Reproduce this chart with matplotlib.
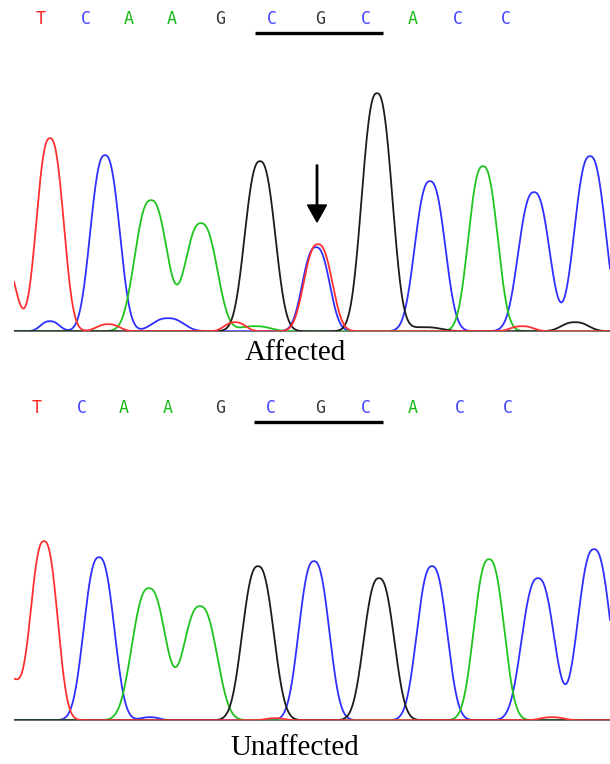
import numpy as np
import matplotlib.pyplot as plt

# figure size in pixels (dpi 100)
W, H = 610, 764

# base calls shown above each trace
bases = list("TCAAGCGCACC")
aff_call_x = [41, 86, 129, 172, 220, 272, 320, 366, 413, 458, 506]
unaff_call_x = [37, 82, 124, 168, 220, 271, 320, 366, 413, 460, 508]
motif = (5, 7)  # CGC underlined, indices into bases

# peaks per dye channel: (scan position, height, width)
aff_peaks = {
    "C": [(50, 10, 9), (105, 176, 14), (168, 13, 15), (316, 84, 13),
          (430, 150, 14.5), (534, 139, 15), (590, 175, 15)],
    "A": [(151, 131, 15.6), (201, 108, 15.6), (255, 5, 15), (483, 165, 14)],
    "G": [(260, 170, 14.5), (377, 238, 14.5), (425, 4, 16), (575, 9, 13)],
    "T": [(2, 74, 13), (50, 193, 13), (108, 7, 11), (235, 9, 10),
          (318, 87, 13.5), (522, 5, 11)],
}
unaff_peaks = {
    "C": [(99, 163, 14.5), (150, 3, 9), (314, 159, 14.5), (432, 154, 14.5),
          (538, 142, 15.6), (594, 171, 15.6)],
    "A": [(149, 132, 16.3), (200, 114, 16.3), (489, 161, 14.5)],
    "G": [(258, 154, 15), (379, 142, 14.5)],
    "T": [(8, 42, 12), (44, 179, 13), (275, 2, 9), (552, 3, 11)],
}

trace_colors = {"C": "#2f2fff", "A": "#1fc41f", "G": "#1c1c1c", "T": "#ff3030"}
call_colors = {"C": "#4646ff", "A": "#18b818", "G": "#3a3a3a", "T": "#ff2020"}
draw_order = ["C", "A", "G", "T"]


def trace(x, peaks):
    # peaks drawn a little flatter-topped than a plain gaussian
    y = np.full_like(x, 0.8)
    for c, h, w in peaks:
        y += h * np.exp(-0.5 * np.abs((x - c) / w) ** 2.5)
    return y


def panel(ax, peaks, call_x, label, label_y):
    x = np.linspace(14, 610, 1500)
    for ch in draw_order:
        ax.plot(x, trace(x, peaks[ch]), color=trace_colors[ch], lw=1.3, zorder=2)
    ax.axhline(0, color="#777777", lw=2.0, zorder=2.5)
    for b, cx in zip(bases, call_x):
        ax.text(cx, 313, b, color=call_colors[b], ha="center", va="center",
                family="DejaVu Sans Mono", fontsize=12, clip_on=False)
    i0, i1 = motif
    ax.plot([call_x[i0] - 17, call_x[i1] + 17], [299, 299], color="black",
            lw=2.4, solid_capstyle="butt", clip_on=False)
    ax.text(295, label_y, label, ha="center", va="center",
            family="Liberation Serif", fontsize=21, clip_on=False)
    ax.set_xlim(14, 610)
    ax.axis("off")


fig = plt.figure(figsize=(W / 100, H / 100), dpi=100)
ax_top = fig.add_axes([14 / W, (H - 332) / H, (W - 14) / W, 252 / H])
ax_top.set_ylim(0, 252)
ax_bot = fig.add_axes([14 / W, (H - 721) / H, (W - 14) / W, 201 / H])
ax_bot.set_ylim(0, 201)

panel(ax_top, aff_peaks, aff_call_x, "Affected", -21)
panel(ax_bot, unaff_peaks, unaff_call_x, "Unaffected", -27)

# arrow marking the heterozygous C/T peak
ax_top.arrow(317, 167, 0, -57, width=1.4, head_width=19, head_length=17,
             length_includes_head=True, color="black", zorder=3)

fig.savefig("out.png", dpi=100)
